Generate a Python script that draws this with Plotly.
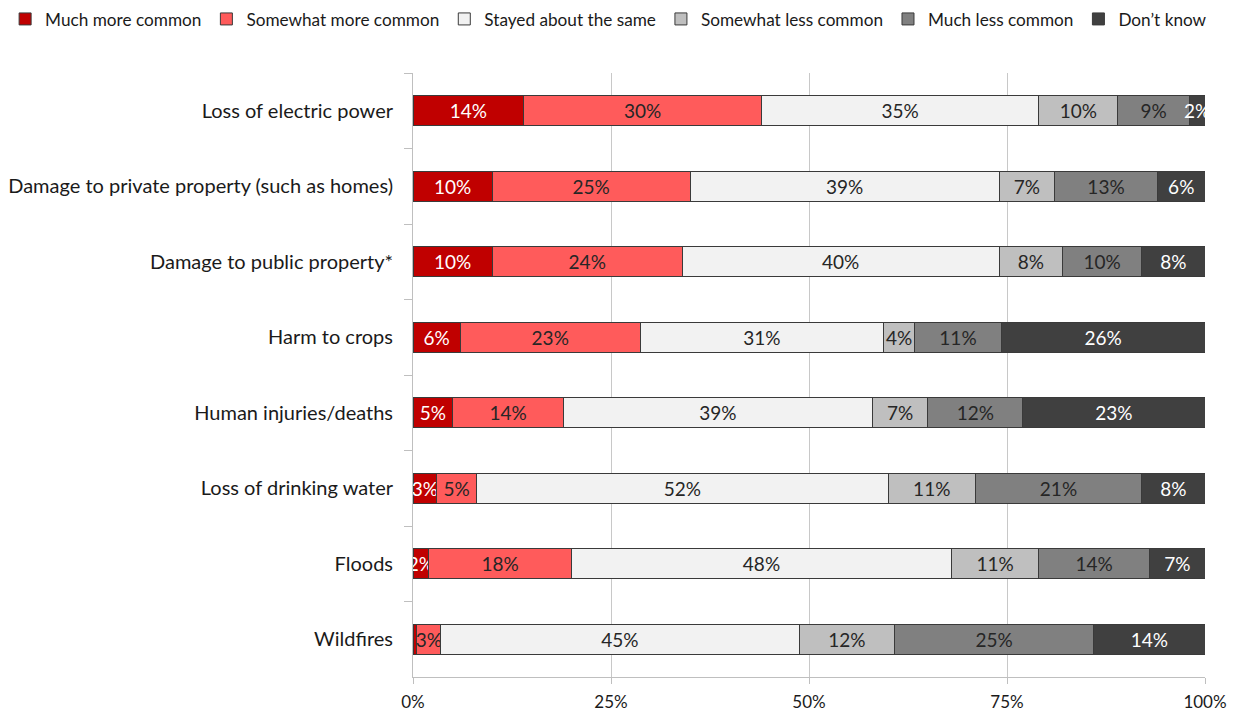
import plotly.graph_objects as go

# Survey items, listed top to bottom
items = [
    "Loss of electric power",
    "Damage to private property (such as homes)",
    "Damage to public property*",
    "Harm to crops",
    "Human injuries/deaths",
    "Loss of drinking water",
    "Floods",
    "Wildfires",
]

responses = [
    "Much more common",
    "Somewhat more common",
    "Stayed about the same",
    "Somewhat less common",
    "Much less common",
    "Don\u2019t know",
]

much_more = [14, 10, 10, 6, 5, 3, 2, 0.5]
somewhat_more = [30, 25, 24, 23, 14, 5, 18, 3]
stayed_same = [35, 39, 40, 31, 39, 52, 48, 45]
somewhat_less = [10, 7, 8, 4, 7, 11, 11, 12]
much_less = [9, 13, 10, 11, 12, 21, 14, 25]
dont_know = [2, 6, 8, 26, 23, 8, 7, 14]

series = [much_more, somewhat_more, stayed_same, somewhat_less, much_less, dont_know]
fills = ["#C00000", "#FF5B5B", "#F2F2F2", "#BFBFBF", "#808080", "#404040"]
label_colors = ["#FFFFFF", "#262626", "#262626", "#262626", "#262626", "#FFFFFF"]

FONT = "Lato, 'Noto Sans', sans-serif"
INK = "#1A1A1A"

fig = go.Figure()
for name, vals, fill, tc in zip(responses, series, fills, label_colors):
    labels = [f"{v:.0f}%" if v >= 1 else "" for v in vals]
    fig.add_trace(go.Bar(
        y=items,
        x=vals,
        name=name,
        orientation="h",
        marker=dict(color=fill, line=dict(color="#3A3A3A", width=1)),
        text=labels,
        texttemplate="%{text}",
        textposition="inside",
        insidetextanchor="middle",
        textangle=0,
        constraintext="none",
        textfont=dict(family=FONT, size=19, color=tc),
        cliponaxis=False,
    ))

fig.update_layout(
    barmode="stack",
    barnorm="percent",
    bargap=0.6,
    width=1253,
    height=715,
    margin=dict(l=413, r=48, t=73, b=38, autoexpand=False),
    paper_bgcolor="white",
    plot_bgcolor="white",
    font=dict(family=FONT, size=19, color=INK),
    uniformtext=dict(mode="show", minsize=19),
    legend=dict(
        orientation="h",
        x=-0.515, xanchor="left",
        y=1.089, yanchor="middle",
        font=dict(family=FONT, size=17.2, color=INK),
        itemwidth=30,
        traceorder="normal",
        tracegroupgap=0,
    ),
    xaxis=dict(
        range=[0, 100],
        tickvals=[0, 25, 50, 75, 100],
        ticktext=["0%", "25%", "50%", "75%", "100%"],
        showgrid=True,
        gridcolor="#C8C8C8",
        gridwidth=1,
        zeroline=False,
        showline=True,
        linecolor="#BFBFBF",
        ticks="outside",
        ticklen=6,
        tickcolor="#BFBFBF",
        ticklabelstandoff=4,
        tickfont=dict(family=FONT, size=17, color=INK),
    ),
    yaxis=dict(
        categoryorder="array",
        categoryarray=items,
        autorange="reversed",
        showline=True,
        linecolor="#BFBFBF",
        ticks="outside",
        tickson="boundaries",
        ticklen=8,
        tickcolor="#BFBFBF",
        ticklabelstandoff=15,
        tickfont=dict(family=FONT, size=20, color=INK),
        showgrid=False,
    ),
)

fig.write_html("out.html")
